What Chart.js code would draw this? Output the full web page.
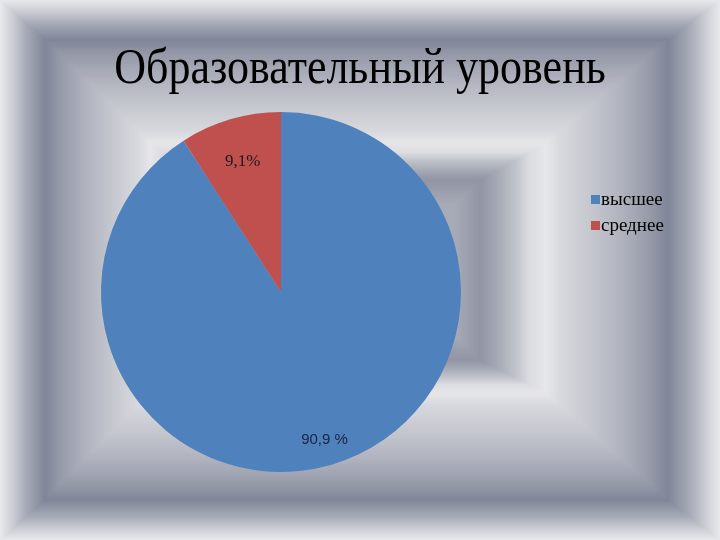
<!DOCTYPE html>
<html><head><meta charset="utf-8">
<script src="https://cdn.jsdelivr.net/npm/chart.js@4/dist/chart.umd.min.js"></script>
<style>
html,body{margin:0;padding:0;width:720px;height:540px;overflow:hidden;background:#fff}
#wrap{position:relative;width:720px;height:540px}
canvas{position:absolute;left:0;top:0}
#title{position:absolute;left:0;top:47px;width:720px;text-align:center;font-family:"Liberation Serif","Times New Roman",serif;font-size:44px;line-height:44px;color:#000;white-space:nowrap;transform:scaleY(1.14);transform-origin:50% 37px}
#legend{position:absolute;left:591px;top:186px;font-family:"Liberation Serif","Times New Roman",serif;font-size:19px;color:#000}
#legend .item{display:flex;align-items:center;height:26px;white-space:nowrap}
#legend .box{width:9px;height:9px;margin-right:1px;display:inline-block}
</style></head>
<body><div id="wrap">
<canvas id="bg" width="720" height="540"></canvas>
<canvas id="chart" width="720" height="540"></canvas>
<div id="title"></div>
<div id="legend"></div>
</div>
<script>
const chartTitle = 'Образовательный уровень';
const categories = ['высшее', 'среднее'];
const shares = [90.9, 9.1];
const shareLabels = ['90,9 %', '9,1%'];
const sliceColors = ['#4f81bd', '#c0504d'];

// background: rectangular path gradient
(function(){
  const c = document.getElementById('bg').getContext('2d');
  const W=720,H=540;
  const img = c.createImageData(W,H);
  const stops = [[0,[0xe8,0xe9,0xec]],[0.045,[0xcb,0xcd,0xd4]],[0.09,[0xa8,0xac,0xb8]],[0.158,[0x80,0x86,0x98]],[0.21,[0x95,0x99,0xa8]],[0.30,[0xb0,0xb3,0xbe]],[0.39,[0xc5,0xc7,0xce]],[0.485,[0xd8,0xd9,0xde]],[0.524,[0xe7,0xe7,0xea]],[0.576,[0xdc,0xdd,0xe1]],[0.62,[0xc0,0xc3,0xca]],[0.68,[0xa3,0xa7,0xb3]],[0.727,[0x91,0x95,0xa4]],[0.8,[0xa6,0xaa,0xb6]],[1,[0xb8,0xbb,0xc4]]];
  const kR=[[0,0],[52,0.158],[173,0.524],[240,0.727],[330,1]];
  const kT=[[0,0],[40,0.158],[143,0.524],[180,0.727],[270,1]];
  const kB=[[0,0],[40,0.158],[147,0.524],[180,0.727],[270,1]];
  const kL=[[0,0],[45,0.158],[150,0.524],[200,0.727],[390,1]];
  function pl(d,k){ if(d<=k[0][0]) return k[0][1]; for(let i=1;i<k.length;i++){ if(d<=k[i][0]){const a=k[i-1],b=k[i];return a[1]+(b[1]-a[1])*(d-a[0])/(b[0]-a[0]);} } return k[k.length-1][1]; }
  function col(t){ for(let i=1;i<stops.length;i++){ if(t<=stops[i][0]){const a=stops[i-1],b=stops[i];const f=(t-a[0])/(b[0]-a[0]);return [0,1,2].map(j=>a[1][j]+(b[1][j]-a[1][j])*f);} } return stops[stops.length-1][1]; }
  for(let y=0;y<H;y++){for(let x=0;x<W;x++){
    const t=Math.min(pl(x+0.5,kL),pl(W-x-0.5,kR),pl(y+0.5,kT),pl(H-y-0.5,kB));
    const cc=col(t); const p=(y*W+x)*4;
    img.data[p]=cc[0];img.data[p+1]=cc[1];img.data[p+2]=cc[2];img.data[p+3]=255;
  }}
  c.putImageData(img,0,0);
})();

document.getElementById('title').textContent = chartTitle;

const sliceLabelPlugin = {
  id: 'sliceLabels',
  afterDatasetsDraw(chart, args, opts) {
    const ctx = chart.ctx;
    const meta = chart.getDatasetMeta(0);
    meta.data.forEach((arc, i) => {
      const p = arc.getProps(['x','y','startAngle','endAngle','outerRadius'], true);
      const mid = (p.startAngle + p.endAngle) / 2;
      const r = p.outerRadius * opts.radial[i];
      ctx.save();
      ctx.font = opts.fonts[i];
      ctx.fillStyle = opts.colors[i];
      ctx.textAlign = 'center';
      ctx.textBaseline = 'middle';
      ctx.fillText(shareLabels[i], p.x + Math.cos(mid) * r, p.y + Math.sin(mid) * r);
      ctx.restore();
    });
  }
};

const chart = new Chart(document.getElementById('chart'), {
  type: 'pie',
  data: {
    labels: categories,
    datasets: [{ data: shares, backgroundColor: sliceColors, borderWidth: 0, hoverOffset: 0, hoverBorderWidth: 0 }]
  },
  options: {
    responsive: false,
    animation: false,
    events: [],
    layout: { padding: { left: 101, right: 259, top: 112, bottom: 68 } },
    plugins: {
      legend: { display: false },
      title: { display: false },
      tooltip: { enabled: false },
      sliceLabels: {
        radial: [0.857, 0.755],
        fonts: ['15px "Liberation Sans", Arial, sans-serif', '17px "Liberation Serif", "Times New Roman", serif'],
        colors: ['#1c2440', '#1a1a1a']
      }
    }
  },
  plugins: [sliceLabelPlugin]
});

// HTML legend built from the chart's own legend items
const legendEl = document.getElementById('legend');
chart.options.plugins.legend.labels.generateLabels(chart).forEach(item => {
  const row = document.createElement('div'); row.className = 'item';
  const box = document.createElement('span'); box.className = 'box'; box.style.background = item.fillStyle;
  const txt = document.createElement('span'); txt.textContent = item.text;
  row.appendChild(box); row.appendChild(txt); legendEl.appendChild(row);
});
</script>
</body></html>
